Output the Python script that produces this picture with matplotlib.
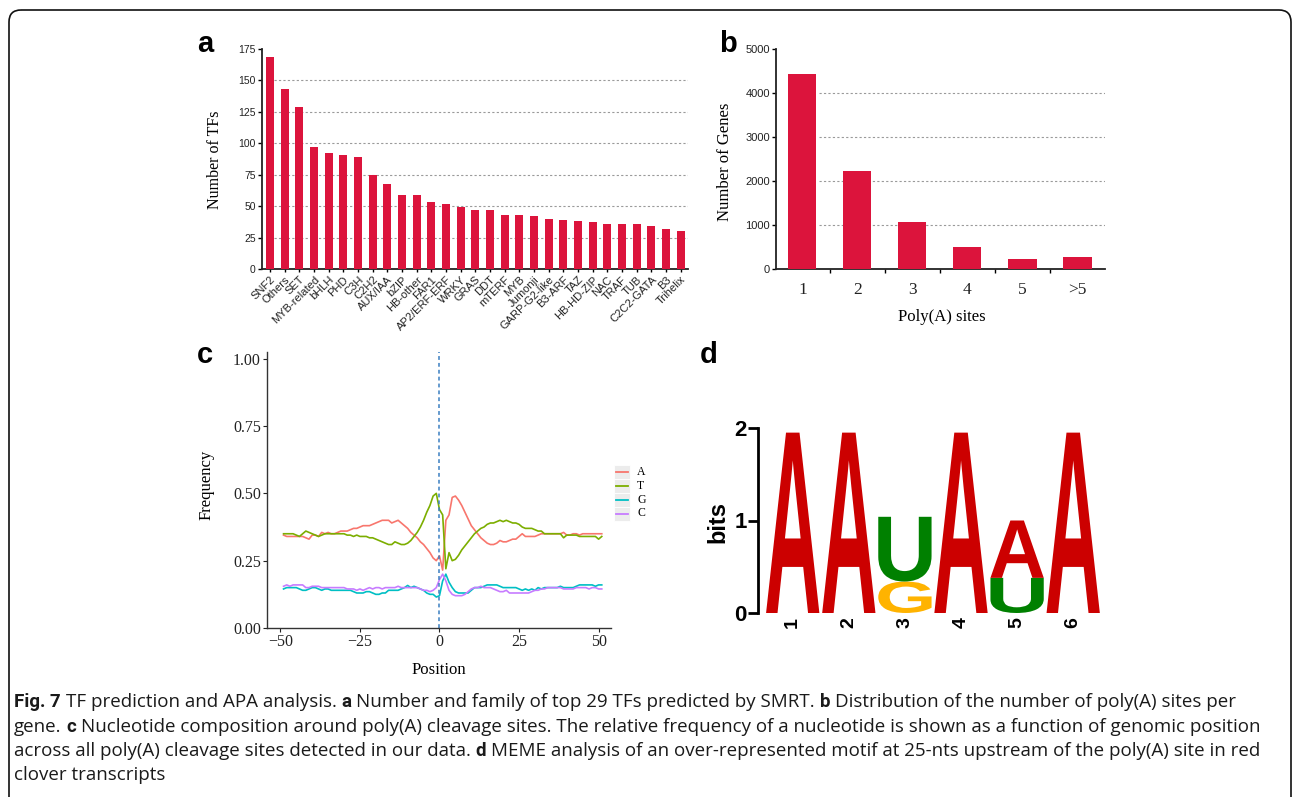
import matplotlib
matplotlib.use('Agg')
import matplotlib.pyplot as plt
import numpy as np
from matplotlib.patches import FancyBboxPatch, Rectangle, PathPatch
from matplotlib.textpath import TextPath
from matplotlib.font_manager import FontProperties
from matplotlib.transforms import Affine2D

### data
# panel a: TF families
tf_names = ['SNF2', 'Others', 'SET', 'MYB-related', 'bHLH', 'PHD', 'C3H', 'C2H2', 'AUX/IAA', 'bZIP',
            'HB-other', 'FAR1', 'AP2/ERF-ERF', 'WRKY', 'GRAS', 'DDT', 'mTERF', 'MYB', 'Jumonji',
            'GARP-G2-like', 'B3-ARF', 'TAZ', 'HB-HD-ZIP', 'NAC', 'TRAF', 'TUB', 'C2C2-GATA', 'B3', 'Trihelix']
tf_counts = [169, 143, 129, 97, 92, 91, 89, 75, 68, 59, 59, 53, 52, 49, 47, 47, 43, 43, 42,
             40, 39, 38, 37, 36, 36, 36, 34, 32, 30]

# panel b: poly(A) sites per gene
site_labels = ['1', '2', '3', '4', '5', '>5']
site_genes = [4440, 2230, 1070, 490, 235, 265]

# panel c: nucleotide frequency around cleavage site
positions = list(range(-49, 52))
freq_A = [0.345, 0.34, 0.34, 0.34, 0.34, 0.34, 0.34, 0.335, 0.33, 0.345,
          0.345, 0.34, 0.355, 0.35, 0.355, 0.35, 0.35, 0.355, 0.36, 0.36,
          0.36, 0.365, 0.37, 0.37, 0.375, 0.38, 0.38, 0.38, 0.385, 0.39,
          0.395, 0.40, 0.40, 0.40, 0.39, 0.395, 0.40, 0.39, 0.38, 0.37,
          0.355, 0.345, 0.335, 0.32, 0.31, 0.295, 0.28, 0.26, 0.25, 0.268,
          0.215, 0.40, 0.42, 0.485, 0.49, 0.475, 0.455, 0.43, 0.405, 0.38,
          0.365, 0.35, 0.335, 0.325, 0.315, 0.31, 0.31, 0.315, 0.325, 0.32,
          0.32, 0.325, 0.33, 0.33, 0.34, 0.35, 0.34, 0.34, 0.34, 0.34,
          0.345, 0.35, 0.35, 0.35, 0.35, 0.35, 0.35, 0.35, 0.355, 0.345,
          0.345, 0.35, 0.35, 0.345, 0.35, 0.35, 0.35, 0.35, 0.35, 0.35, 0.35]
freq_T = [0.35, 0.35, 0.35, 0.35, 0.345, 0.34, 0.35, 0.36, 0.355, 0.35,
          0.345, 0.34, 0.345, 0.35, 0.35, 0.35, 0.35, 0.35, 0.35, 0.35,
          0.345, 0.345, 0.34, 0.345, 0.34, 0.34, 0.34, 0.335, 0.335, 0.33,
          0.325, 0.32, 0.315, 0.31, 0.31, 0.32, 0.315, 0.31, 0.31, 0.315,
          0.325, 0.34, 0.355, 0.375, 0.40, 0.43, 0.455, 0.49, 0.50, 0.44,
          0.42, 0.22, 0.28, 0.25, 0.255, 0.27, 0.29, 0.305, 0.32, 0.335,
          0.35, 0.36, 0.37, 0.375, 0.385, 0.39, 0.39, 0.395, 0.40, 0.395,
          0.40, 0.395, 0.39, 0.39, 0.385, 0.375, 0.37, 0.37, 0.37, 0.365,
          0.36, 0.36, 0.35, 0.35, 0.35, 0.35, 0.35, 0.35, 0.335, 0.345,
          0.345, 0.345, 0.345, 0.34, 0.34, 0.34, 0.34, 0.34, 0.34, 0.33, 0.34]
freq_G = [0.145, 0.15, 0.15, 0.15, 0.15, 0.145, 0.14, 0.14, 0.145, 0.15,
          0.15, 0.145, 0.14, 0.145, 0.145, 0.14, 0.14, 0.14, 0.14, 0.14,
          0.14, 0.14, 0.135, 0.13, 0.13, 0.13, 0.135, 0.135, 0.13, 0.125,
          0.125, 0.13, 0.13, 0.14, 0.14, 0.14, 0.14, 0.145, 0.15, 0.158,
          0.15, 0.155, 0.15, 0.145, 0.14, 0.13, 0.125, 0.125, 0.115, 0.12,
          0.175, 0.20, 0.17, 0.15, 0.135, 0.13, 0.13, 0.13, 0.13, 0.14,
          0.15, 0.15, 0.15, 0.155, 0.16, 0.16, 0.16, 0.16, 0.155, 0.15,
          0.15, 0.15, 0.15, 0.15, 0.145, 0.14, 0.145, 0.14, 0.145, 0.14,
          0.15, 0.145, 0.15, 0.15, 0.15, 0.15, 0.15, 0.155, 0.15, 0.15,
          0.15, 0.15, 0.155, 0.16, 0.16, 0.16, 0.16, 0.16, 0.155, 0.16, 0.16]
freq_C = [0.155, 0.16, 0.155, 0.16, 0.16, 0.16, 0.16, 0.15, 0.15, 0.155,
          0.155, 0.155, 0.15, 0.15, 0.15, 0.15, 0.15, 0.15, 0.15, 0.15,
          0.145, 0.145, 0.145, 0.14, 0.145, 0.14, 0.145, 0.15, 0.145, 0.15,
          0.15, 0.145, 0.15, 0.15, 0.15, 0.15, 0.155, 0.15, 0.15, 0.15,
          0.15, 0.15, 0.15, 0.145, 0.14, 0.14, 0.135, 0.14, 0.15, 0.18,
          0.20, 0.175, 0.14, 0.125, 0.12, 0.12, 0.12, 0.125, 0.135, 0.145,
          0.15, 0.15, 0.155, 0.15, 0.15, 0.15, 0.145, 0.14, 0.135, 0.135,
          0.14, 0.13, 0.13, 0.13, 0.13, 0.13, 0.13, 0.13, 0.135, 0.14,
          0.14, 0.145, 0.145, 0.15, 0.15, 0.15, 0.15, 0.15, 0.145, 0.145,
          0.145, 0.145, 0.15, 0.15, 0.15, 0.15, 0.145, 0.15, 0.15, 0.145, 0.145]
nuc_names = ['A', 'T', 'G', 'C']

# panel d: motif logo, stacks bottom -> top as (letter, bits)
motif_pos = [1, 2, 3, 4, 5, 6]
motif_stacks = [[('A', 1.95)],
                [('A', 1.95)],
                [('G', 0.34), ('U', 0.70)],
                [('A', 1.95)],
                [('U', 0.38), ('A', 0.62)],
                [('A', 1.95)]]

# caption
caption = [[('Fig. 7', True), (' TF prediction and APA analysis. ', False), ('a', True),
            (' Number and family of top 29 TFs predicted by SMRT. ', False), ('b', True),
            (' Distribution of the number of poly(A) sites per', False)],
           [('gene. ', False), ('c', True),
            (' Nucleotide composition around poly(A) cleavage sites. The relative frequency of a nucleotide is shown as a function of genomic position', False)],
           [('across all poly(A) cleavage sites detected in our data. ', False), ('d', True),
            (' MEME analysis of an over-represented motif at 25-nts upstream of the poly(A) site in red', False)],
           [('clover transcripts', False)]]

### styling
RED = '#DC143C'
NUC_COLORS = ['#F8766D', '#7CAE00', '#00BFC4', '#C77CFF']
LOGO_COLORS = {'A': '#CC0000', 'U': '#008000', 'G': '#FFB300', 'C': '#0000CC'}
SANS = 'Liberation Sans'
SERIF = 'Liberation Serif'

W, H = 1293, 797
fig = plt.figure(figsize=(W / 100, H / 100), dpi=100)


def box(l, t, r, b):
    # pixel box -> figure fraction
    return [l / W, 1 - b / H, (r - l) / W, (b - t) / H]


def clean_spines(ax, color='#222222', lw=1.3):
    ax.spines['top'].set_visible(False)
    ax.spines['right'].set_visible(False)
    ax.spines['left'].set_color(color)
    ax.spines['bottom'].set_color(color)
    ax.spines['left'].set_linewidth(lw)
    ax.spines['bottom'].set_linewidth(lw)
    ax.patch.set_alpha(0)


### panel a
ax_a = fig.add_axes(box(262, 49, 688, 269))
xa = np.arange(len(tf_names))
ax_a.bar(xa, tf_counts, width=0.55, color=RED, zorder=3)
ax_a.set_xlim(-0.55, 28.5)
ax_a.set_ylim(0, 175)
ax_a.set_yticks(range(0, 176, 25))
ax_a.hlines(range(25, 175, 25), 0.3, 28.5, colors='#9a9a9a', linestyles=(0, (2, 2)), lw=0.8, zorder=1)
ax_a.set_xticks(xa)
ax_a.set_xticklabels(tf_names, rotation=45, ha='right', rotation_mode='anchor')
ax_a.tick_params(axis='x', length=2, width=1, pad=2, labelsize=8)
ax_a.tick_params(axis='y', length=3, width=1, pad=1.5, labelsize=7.5)
for lab in ax_a.get_xticklabels() + ax_a.get_yticklabels():
    lab.set_family(SANS)
    lab.set_color('#222222')
clean_spines(ax_a)

### panel b
ax_b = fig.add_axes(box(776, 49, 1105, 269))
xb = np.arange(len(site_labels))
ax_b.bar(xb, site_genes, width=0.51, color=RED, zorder=3)
ax_b.set_xlim(-0.48, 5.5)
ax_b.set_ylim(0, 5000)
ax_b.set_yticks(range(0, 5001, 1000))
ax_b.hlines(range(1000, 5000, 1000), 0.3, 5.5, colors='#9a9a9a', linestyles=(0, (2, 2)), lw=0.8, zorder=1)
ax_b.set_xticks(xb)
ax_b.set_xticklabels(site_labels)
ax_b.set_xticks(xb[:-1] + 0.5, minor=True)
ax_b.tick_params(axis='x', which='major', length=0, pad=9, labelsize=12.5)
ax_b.tick_params(axis='x', which='minor', length=3, width=1)
ax_b.tick_params(axis='y', length=3, width=1, pad=1.5, labelsize=8)
for lab in ax_b.get_xticklabels():
    lab.set_family(SERIF)
    lab.set_color('#222222')
for lab in ax_b.get_yticklabels():
    lab.set_family(SANS)
    lab.set_color('#222222')
clean_spines(ax_b)

### panel c
ax_c = fig.add_axes(box(267, 352, 611, 628))
for vals, col in zip([freq_A, freq_T, freq_G, freq_C], NUC_COLORS):
    ax_c.plot(positions, vals, color=col, lw=1.2)
ax_c.axvline(0, color='#3a7fc1', lw=1.1, linestyle=(0, (2.5, 2)))
ax_c.set_xlim(-54.2, 53.9)
ax_c.set_ylim(0, 1.025)
ax_c.set_xticks([-50, -25, 0, 25, 50])
ax_c.set_yticks([0, 0.25, 0.5, 0.75, 1.0])
ax_c.set_yticklabels(['%.2f' % v for v in [0, 0.25, 0.5, 0.75, 1.0]])
ax_c.tick_params(length=3, width=0.8, pad=1.5, labelsize=11.5, colors='#222222')
for lab in ax_c.get_xticklabels() + ax_c.get_yticklabels():
    lab.set_family(SERIF)
clean_spines(ax_c, color='#333333', lw=1.0)

### panel d: sequence logo
ax_d = fig.add_axes(box(758, 428, 1105, 613))
ax_d.set_xlim(0.381, 6.567)
ax_d.set_ylim(0, 2)
logo_font = FontProperties(family=SANS, weight='bold')
for pos, stack in zip(motif_pos, motif_stacks):
    bottom = 0
    for letter, bits in stack:
        tp = TextPath((0, 0), letter, size=1, prop=logo_font)
        ext = tp.get_extents()
        trans = (Affine2D().translate(-ext.x0, -ext.y0)
                 .scale(0.95 / ext.width, bits / ext.height)
                 .translate(pos - 0.475, bottom))
        ax_d.add_patch(PathPatch(trans.transform_path(tp), color=LOGO_COLORS[letter], lw=0))
        bottom += bits
ax_d.set_xticks(motif_pos)
ax_d.set_xticklabels([str(p) for p in motif_pos], rotation=90)
ax_d.set_yticks([0, 1, 2])
ax_d.tick_params(axis='x', length=0, pad=3, labelsize=14)
ax_d.tick_params(axis='y', length=7, width=2, pad=1, labelsize=16)
for lab in ax_d.get_xticklabels() + ax_d.get_yticklabels():
    lab.set_family(SANS)
    lab.set_weight('bold')
for s in ['top', 'right', 'bottom']:
    ax_d.spines[s].set_visible(False)
ax_d.spines['left'].set_linewidth(2)
ax_d.patch.set_alpha(0)

### overlay in pixel coordinates: frame, panel letters, axis titles, legend, caption
ov = fig.add_axes([0, 0, 1, 1], zorder=10)
ov.set_xlim(0, W)
ov.set_ylim(H, 0)
ov.axis('off')
ov.patch.set_alpha(0)

ov.add_patch(FancyBboxPatch((9, 10), 1282, 800, boxstyle='round,pad=0,rounding_size=12',
                            fill=False, ec='#111111', lw=1.2))

for txt, x, y in [('a', 197, 52), ('b', 719, 52), ('c', 197, 363), ('d', 700, 363)]:
    ov.text(x, y, txt, family=SANS, weight='bold', fontsize=21, ha='left', va='baseline')

ov.text(215, 160, 'Number of TFs', family=SERIF, fontsize=11.5, rotation=90, ha='center', va='center')
ov.text(725, 162, 'Number of Genes', family=SERIF, fontsize=12, rotation=90, ha='center', va='center')
ov.text(942, 317, 'Poly(A) sites', family=SERIF, fontsize=12, ha='center', va='center')
ov.text(207, 485, 'Frequency', family=SERIF, fontsize=12, rotation=90, ha='center', va='center')
ov.text(439, 670, 'Position', family=SERIF, fontsize=12, ha='center', va='center')
ov.text(718, 522, 'bits', family=SANS, weight='bold', fontsize=17, rotation=90, ha='center', va='center')

# ggplot-like legend for panel c
for i, (name, col) in enumerate(zip(nuc_names, NUC_COLORS)):
    yc = 471.5 + i * 14
    ov.add_patch(Rectangle((614, yc - 7), 16, 14, fc='#ececec', ec='white', lw=0.6))
    ov.plot([616, 628], [yc, yc], color=col, lw=1.3)
    ov.text(637, yc, name, family=SERIF, fontsize=8.5, ha='left', va='center')

# caption with bold fragments
renderer = fig.canvas.get_renderer()


def seg_width(s, fp):
    if not s:
        return 0.0
    w1 = renderer.get_text_width_height_descent('x' + s + 'x', fp, ismath=False)[0]
    w0 = renderer.get_text_width_height_descent('xx', fp, ismath=False)[0]
    return w1 - w0


def cap_fonts(size):
    return (FontProperties(family=['Open Sans', 'DejaVu Sans'], size=size),
            FontProperties(family=['Roboto', 'DejaVu Sans'], size=size, weight='bold'))


# size the caption so that its longest line ends where the printed one does
fp_n, fp_b = cap_fonts(12.5)
w_line2 = sum(seg_width(s, fp_b if b else fp_n) for s, b in caption[1])
cap_size = 12.5 * (1268 - 14) / w_line2
fp_n, fp_b = cap_fonts(cap_size)

for li, line in enumerate(caption):
    x = 14
    y = 707 + li * 24.5
    for s, bold in line:
        fp = fp_b if bold else fp_n
        core = s.strip()
        lead = s[:len(s) - len(s.lstrip())]
        trail = s[len(s.rstrip()):]
        x += seg_width(lead, fp)
        ov.text(x, y, core, fontproperties=fp, color='#1a1a1a', ha='left', va='baseline')
        x += seg_width(core, fp) + seg_width(trail, fp)

fig.savefig('out.png', dpi=100)
